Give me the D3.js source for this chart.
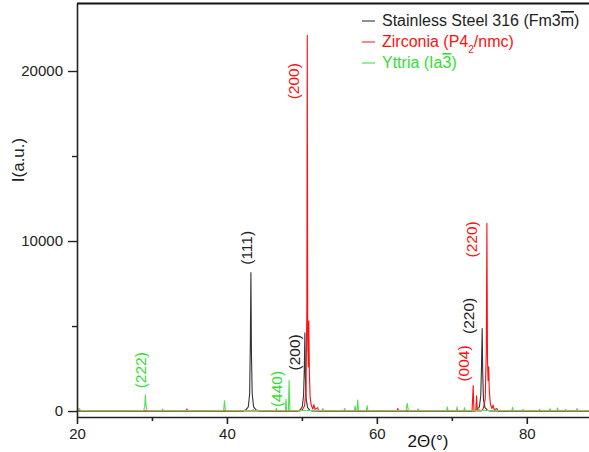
<!DOCTYPE html>
<html lang="en">
<head>
    <meta charset="UTF-8">
    <title>XRD pattern</title>
    <script src="https://d3js.org/d3.v7.min.js"></script>
    <style>
        body { margin: 0; background: #fff; }
        svg { font-family: "Liberation Sans", Arial, sans-serif; }
        .series { fill: none; stroke-width: 1.1px; stroke-linejoin: round; }
        .axis path, .axis line { stroke: #222; }
        .axis text { font-size: 15px; fill: #222; }
        .peak { font-size: 15.5px; }
    </style>
</head>
<body>
    <svg width="589" height="452"></svg>
    <script>
        // 2theta (deg), intensity (a.u.)
        const steel = [
            [20, 0], [42.1, 0], [42.5, 60], [42.85, 250], [43.03, 1000], [43.12, 3800], [43.2, 8150],
            [43.27, 3400], [43.37, 1000], [43.56, 250], [43.9, 60], [44.4, 0],
            [49.4, 0], [49.75, 60], [50.05, 250], [50.22, 900], [50.32, 2400], [50.4, 4600],
            [50.47, 2000], [50.57, 700], [50.76, 200], [51.05, 50], [51.4, 0],
            [73.0, 0], [73.35, 60], [73.68, 250], [73.86, 900], [73.96, 2600], [74.05, 4850],
            [74.12, 2300], [74.22, 700], [74.42, 200], [74.75, 50], [75.1, 0], [88.3, 0]
        ];
        const zirconia = [
            [20, 0], [34.55, 0], [34.65, 120], [34.75, 0],
            [49.7, 0], [50.05, 80], [50.35, 300], [50.55, 1200], [50.66, 6000], [50.72, 22100],
            [50.78, 4200], [50.86, 2600], [50.93, 5300], [51.0, 2200], [51.1, 800], [51.25, 350],
            [51.45, 120], [51.6, 380], [51.75, 100], [52.1, 200], [52.25, 0],
            [62.7, 0], [62.8, 150], [62.9, 0],
            [72.7, 0], [72.85, 1500], [72.95, 0], [73.2, 0], [73.3, 900], [73.4, 0],
            [73.9, 0], [74.2, 150], [74.45, 700], [74.6, 3500], [74.68, 11050], [74.76, 3000],
            [74.84, 1800], [74.92, 2600], [75.0, 1200], [75.15, 400], [75.35, 150], [75.5, 350],
            [75.65, 80], [76.0, 150], [76.2, 0], [88.3, 0]
        ];
        const yttria = [
            [20, 30], [20.3, 150], [20.5, 30], [28.9, 30], [29.05, 350], [29.12, 950], [29.2, 350],
            [29.35, 30], [31.3, 30], [31.4, 120], [31.5, 30], [39.55, 30], [39.68, 600], [39.8, 30],
            [43.4, 30], [43.5, 90], [43.6, 30], [46.5, 30], [46.6, 150], [46.7, 30],
            [47.8, 30], [47.88, 700], [47.96, 30], [48.2, 30], [48.3, 1800], [48.4, 30],
            [52.7, 30], [52.8, 150], [52.9, 30], [55.6, 30], [55.7, 150], [55.8, 30],
            [57.0, 30], [57.1, 300], [57.2, 30], [57.35, 30], [57.45, 650], [57.55, 30],
            [58.6, 30], [58.7, 320], [58.8, 30], [63.9, 30], [64.05, 450], [64.2, 30],
            [65.4, 30], [65.5, 130], [65.6, 30], [69.3, 30], [69.4, 250], [69.5, 30],
            [70.6, 30], [70.7, 250], [70.8, 30], [71.6, 30], [71.7, 200], [71.8, 30],
            [73.5, 30], [73.6, 150], [73.7, 30], [78.0, 30], [78.1, 220], [78.2, 30],
            [79.4, 30], [79.5, 100], [79.6, 30], [81.6, 30], [81.7, 100], [81.8, 30],
            [83.0, 30], [83.1, 130], [83.2, 30], [84.0, 30], [84.1, 180], [84.2, 30],
            [85.1, 30], [85.2, 100], [85.3, 30], [86.6, 30], [86.7, 150], [86.8, 30], [88.3, 30]
        ];

        const xTicks = [20, 40, 60, 80];
        const xMinor = [30, 50, 70];
        const yTicks = [0, 10000, 20000];
        const yMinor = [5000, 15000];

        const legend = [
            { color: "#222", parts: [["Stainless Steel 316 (Fm3", ""], ["m", "over"], [")", ""]] },
            { color: "#ff1010", parts: [["Zirconia (P4", ""], ["2", "sub"], ["/nmc)", ""]] },
            { color: "#33dd33", parts: [["Yttria (Ia", ""], ["3", "over"], [")", ""]] }
        ];

        const peakLabels = [
            { text: "(222)", x: 29.2, y: 2400, color: "#33dd33" },
            { text: "(440)", x: 47.3, y: 1300, color: "#33dd33" },
            { text: "(111)", x: 43.4, y: 9600, color: "#222" },
            { text: "(200)", x: 49.7, y: 3450, color: "#222" },
            { text: "(200)", x: 49.6, y: 19400, color: "#ff1010" },
            { text: "(220)", x: 73.0, y: 5600, color: "#222" },
            { text: "(220)", x: 73.3, y: 10100, color: "#ff1010" },
            { text: "(004)", x: 72.3, y: 2800, color: "#ff1010" }
        ];

        const svg = d3.select("svg");
        const x = d3.scaleLinear().domain([20, 88.3]).range([77, 589]);
        const y = d3.scaleLinear().domain([-350, 24000]).range([417, 3]);

        const line = d3.line().x(d => x(d[0])).y(d => y(d[1]));

        svg.append("path").datum(steel).attr("class", "series").attr("stroke", "#333").attr("d", line);
        svg.append("path").datum(zirconia).attr("class", "series").attr("stroke", "#ff1010").attr("d", line);
        svg.append("path").datum(yttria).attr("class", "series").attr("stroke", "#55dd55").attr("stroke-width", 0.8).attr("d", line);

        // axes
        const xAxis = svg.append("g").attr("class", "axis").attr("transform", "translate(0,417)")
            .call(d3.axisBottom(x).tickValues(xTicks).tickSize(7).tickPadding(4).tickSizeOuter(0));
        xAxis.select(".domain").attr("stroke-width", 1.6);
        xAxis.selectAll(".tick line").attr("stroke-width", 1.6);
        svg.append("g").attr("class", "axis").attr("transform", "translate(0,417)")
            .call(d3.axisBottom(x).tickValues(xMinor).tickSize(4).tickFormat("").tickSizeOuter(0))
            .call(g => g.select(".domain").remove())
            .selectAll(".tick line").attr("stroke-width", 1.6);

        const yAxis = svg.append("g").attr("class", "axis").attr("transform", "translate(77,0)")
            .call(d3.axisLeft(y).tickValues(yTicks).tickFormat(d3.format("d")).tickSize(9).tickPadding(5).tickSizeOuter(0));
        yAxis.select(".domain").attr("stroke-width", 1.6);
        yAxis.selectAll(".tick line").attr("stroke-width", 1.4);
        svg.append("g").attr("class", "axis").attr("transform", "translate(77,0)")
            .call(d3.axisLeft(y).tickValues(yMinor).tickSize(5).tickFormat("").tickSizeOuter(0))
            .call(g => g.select(".domain").remove())
            .selectAll(".tick line").attr("stroke-width", 1.4);

        // top frame
        svg.append("line").attr("x1", 77).attr("x2", 589).attr("y1", 3.5).attr("y2", 3.5)
            .attr("stroke", "#111").attr("stroke-width", 2.2);

        // titles
        svg.append("text").attr("x", 428).attr("y", 447).attr("text-anchor", "middle")
            .attr("font-size", 17).attr("fill", "#111").text("2Θ(°)");
        svg.append("text").attr("transform", "translate(24,160) rotate(-90)").attr("text-anchor", "middle")
            .attr("font-size", 17).attr("fill", "#222").text("I(a.u.)");

        // peak labels
        svg.selectAll(".peak").data(peakLabels).join("text")
            .attr("class", "peak")
            .attr("transform", d => `translate(${x(d.x)},${y(d.y)}) rotate(-90)`)
            .attr("text-anchor", "middle")
            .attr("fill", d => d.color)
            .text(d => d.text);

        // legend
        const lg = svg.append("g").attr("transform", "translate(362,26)");
        legend.forEach((item, i) => {
            lg.append("line").attr("x1", 0).attr("x2", 13).attr("y1", i * 21 - 5).attr("y2", i * 21 - 5)
                .attr("stroke", item.color).attr("stroke-width", 1);
            const t = lg.append("text").attr("x", 20).attr("y", i * 21).attr("font-size", 16)
                .attr("fill", i === 0 ? "#222" : item.color);
            item.parts.forEach(p => {
                const ts = t.append("tspan").text(p[0]);
                if (p[1] === "sub") ts.attr("baseline-shift", "sub").attr("font-size", 10);
                if (p[1] === "over") ts.style("text-decoration", "overline");
            });
        });
    </script>
</body>
</html>
